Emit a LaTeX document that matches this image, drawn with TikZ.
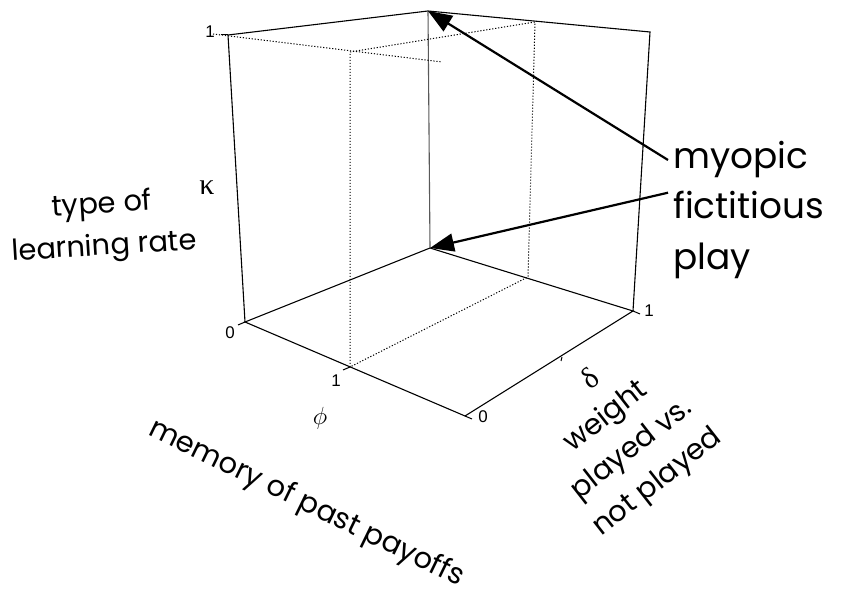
\documentclass[tikz,border=0pt]{standalone}
\usepackage{fontspec}
\usepackage{tikz}
\usetikzlibrary{arrows.meta,positioning}
\newfontfamily\handfont{Poppins}
\newfontfamily\greekfont{Liberation Serif}
\newfontfamily\numfont{Liberation Sans}
\tikzset{
  boxEdge/.style={line width=1.1bp, draw=black},
  gridLine/.style={line width=1bp, draw=black, dash pattern=on 1.2bp off 1.8bp},
  tickMark/.style={line width=1bp},
  tickLabel/.style={font=\numfont\fontsize{17}{20}\selectfont, inner sep=0pt},
  greekLabel/.style={font=\greekfont\fontsize{30}{32}\selectfont, inner sep=0pt},
  axisLabel/.style={font=\handfont\fontsize{29}{42}\selectfont, align=center, inner sep=0pt},
  callout/.style={font=\handfont\fontsize{36}{40}\selectfont, inner xsep=5bp, inner ysep=0pt, text height=26bp, text depth=9bp, anchor=west},
  noteArrow/.style={-{Triangle[length=24bp,width=18bp]}, line width=2.2bp}
}

\begin{document}
\begin{tikzpicture}[x=1bp, y=1bp]
  \fill[white] (0,0) rectangle (842,595);
  \useasboundingbox (0,0) rectangle (842,595);
  % box corners
  \coordinate (A) at (245,273);
  \coordinate (B) at (465,179);
  \coordinate (C) at (633,284);
  \coordinate (D) at (430,347);
  \coordinate (At) at (228,560);
  \coordinate (Dt) at (428,584);
  \coordinate (Ct) at (650,563);
  % grid points at phi=1 and kappa=1
  \coordinate (P1) at (350,228);
  \coordinate (P1t) at (350,543);
  \coordinate (Q1) at (528,318);
  \coordinate (Q1t) at (535,573);
  \coordinate (Kstart) at (213,561);
  \coordinate (Kend) at (442,533);

  \draw[boxEdge] (A) -- (B) -- (C) -- (D) -- cycle;
  \draw[boxEdge] (A) -- (At) -- (Dt) -- (Ct) -- (C);
  \draw[boxEdge, draw=black!65] (D) -- (Dt);
  \draw[gridLine] (Kstart) -- (Kend);
  \draw[gridLine] (P1t) -- (Q1t) -- (Q1) -- (P1) -- cycle;

  \draw[tickMark] (A) -- ++(-7,-3);
  \draw[tickMark] (P1) -- ++(-7,-3);
  \draw[tickMark] (B) -- ++(7,-3);
  \draw[tickMark] (C) -- ++(7,-3);
  \draw[tickMark] (562,238) -- ++(-1,-4);
  \draw[tickMark] (At) -- ++(-7,0);
  \node[tickLabel] (k0) at (230,262) {0};
  \node[tickLabel] (p1) at (336,214) {1};
  \node[tickLabel] (d0) at (483,178) {0};
  \node[tickLabel] (d1) at (649,284) {1};
  \node[tickLabel] (k1) at (210,563) {1};

  \node[greekLabel] (kappa) at (207,407) {κ};
  \node[axisLabel, rotate=3.5] (kappaLbl) at (103,368) {type of\\learning rate};
  \node[font=\fontsize{34}{36}\selectfont, inner sep=0pt] (phi) at (320,177) {$\phi$};
  \node[axisLabel, rotate=-26] (phiLbl) at (306,91) {memory of past payoffs};
  \node[greekLabel, rotate=38] (delta) at (590,217) {δ};
  \node[axisLabel, rotate=38] (deltaLbl) at (632,145) {weight\\played vs.\\not played};

  \node[callout] (myopic) at (668,435) {myopic};
  \node[callout, below=15bp of myopic.south west, anchor=north west] (fictitious) {fictitious};
  \node[callout, below=15bp of fictitious.south west, anchor=north west] (play) {play};
  \draw[noteArrow] (myopic.west) -- (Dt);
  \draw[noteArrow] (fictitious.north west) -- (D);
\end{tikzpicture}
\end{document}
